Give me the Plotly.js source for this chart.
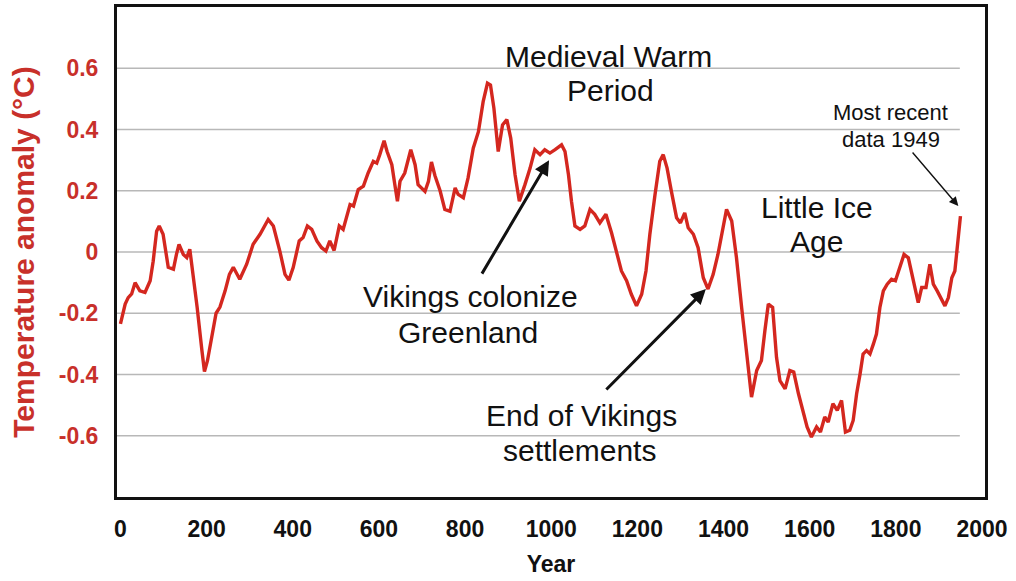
<!DOCTYPE html>
<html>
<head>
<meta charset="utf-8">
<script src="https://cdn.plot.ly/plotly-3.0.1.min.js"></script>
<style>html,body{margin:0;padding:0;background:#fff;}#chart{width:1016px;height:581px;}</style>
</head>
<body>
<div id="chart"></div>
<script>
const years = [0,11,18,26,34,45,57,69,76,84,90,99,111,123,130,136,146,154,161,169,178,189,195,202,212,222,231,243,253,262,277,293,308,324,343,355,370,382,391,401,415,424,434,444,456,467,477,486,496,508,517,527,533,541,552,564,575,587,595,602,612,619,630,637,643,649,660,674,684,691,707,715,722,730,742,753,765,777,784,796,807,819,831,842,852,859,867,877,887,897,906,916,926,939,951,962,974,985,997,1009,1024,1032,1040,1047,1055,1067,1078,1090,1101,1113,1127,1140,1152,1163,1175,1186,1198,1210,1220,1229,1241,1252,1260,1269,1279,1291,1300,1310,1318,1330,1341,1353,1364,1376,1387,1399,1407,1419,1430,1442,1454,1465,1477,1488,1496,1504,1514,1523,1531,1543,1554,1563,1574,1585,1594,1604,1616,1625,1635,1643,1654,1664,1674,1683,1693,1701,1709,1717,1724,1732,1740,1748,1755,1763,1771,1780,1790,1799,1810,1819,1829,1840,1852,1860,1870,1879,1887,1896,1904,1914,1922,1930,1937,1945,1950];
const anomaly = [-0.235,-0.17,-0.149,-0.137,-0.10,-0.127,-0.132,-0.094,-0.03,0.068,0.085,0.058,-0.05,-0.056,-0.008,0.025,-0.008,-0.018,0.009,-0.073,-0.18,-0.32,-0.39,-0.355,-0.27,-0.20,-0.18,-0.127,-0.073,-0.05,-0.089,-0.04,0.025,0.058,0.106,0.085,0.003,-0.073,-0.092,-0.051,0.036,0.047,0.085,0.074,0.036,0.014,0.003,0.036,0.005,0.085,0.074,0.123,0.155,0.15,0.204,0.215,0.258,0.296,0.29,0.318,0.363,0.328,0.285,0.22,0.166,0.231,0.258,0.334,0.285,0.22,0.198,0.231,0.294,0.25,0.20,0.139,0.133,0.209,0.188,0.177,0.242,0.339,0.393,0.491,0.551,0.545,0.469,0.328,0.415,0.432,0.372,0.253,0.166,0.22,0.274,0.334,0.318,0.334,0.323,0.334,0.35,0.328,0.253,0.166,0.085,0.074,0.085,0.139,0.123,0.095,0.123,0.063,-0.008,-0.062,-0.094,-0.138,-0.176,-0.138,-0.062,0.058,0.188,0.296,0.318,0.274,0.198,0.112,0.095,0.128,0.079,0.058,0.014,-0.084,-0.121,-0.073,-0.008,0.079,0.139,0.101,-0.018,-0.181,-0.344,-0.474,-0.387,-0.354,-0.257,-0.17,-0.181,-0.344,-0.42,-0.447,-0.387,-0.392,-0.463,-0.528,-0.571,-0.604,-0.571,-0.588,-0.539,-0.555,-0.495,-0.517,-0.485,-0.588,-0.582,-0.55,-0.463,-0.398,-0.333,-0.322,-0.333,-0.30,-0.268,-0.181,-0.127,-0.105,-0.089,-0.094,-0.051,-0.008,-0.019,-0.094,-0.165,-0.116,-0.116,-0.04,-0.105,-0.127,-0.149,-0.176,-0.149,-0.084,-0.062,0.047,0.117];
const xTicks = [0,200,400,600,800,1000,1200,1400,1600,1800,2000];
const yTicks = [-0.6,-0.4,-0.2,0,0.2,0.4,0.6];
const yTickLabels = ['-0.6','-0.4','-0.2','0','0.2','0.4','0.6'];

const FONT = 'Liberation Sans, Arial, sans-serif';
const RED = '#c8302a';

const trace = {
  x: years, y: anomaly, type: 'scatter', mode: 'lines',
  line: {color: '#d4271f', width: 3.4, shape: 'linear'},
  hoverinfo: 'x+y'
};

const gridShapes = yTicks.map(v => ({
  type: 'line', xref: 'paper', yref: 'y', x0: 0, x1: 0.971, y0: v, y1: v,
  line: {color: '#b8b8b8', width: 1.5}, layer: 'below'
}));

function txt(text, x, y, size) {
  return {text: text, xref: 'paper', yref: 'paper', x: x, y: y,
    xanchor: 'center', yanchor: 'middle', showarrow: false,
    font: {family: FONT, size: size, color: '#111'}};
}
function arrow(x, y, ax, ay, w, s) {
  return {text: '', xref: 'x', yref: 'y', x: x, y: y, ax: ax, ay: ay,
    showarrow: true, arrowhead: 2, arrowsize: s, arrowwidth: w, arrowcolor: '#111'};
}

const layout = {
  width: 1016, height: 581,
  margin: {l: 117, r: 31, t: 7, b: 84},
  paper_bgcolor: '#fff', plot_bgcolor: '#fff',
  showlegend: false,
  font: {family: FONT},
  xaxis: {
    range: [-8, 2007], tickvals: xTicks, ticks: '',
    showline: true, linecolor: '#111', linewidth: 3, mirror: true,
    showgrid: false, zeroline: false,
    tickfont: {family: FONT, size: 23, color: '#111', weight: 'bold'},
    ticklabelstandoff: 9,
    title: {text: 'Year', font: {family: FONT, size: 23, color: '#111', weight: 'bold'}, standoff: 16}
  },
  yaxis: {
    range: [-0.8, 0.8], tickvals: yTicks, ticktext: yTickLabels, ticks: '',
    showline: true, linecolor: '#111', linewidth: 3, mirror: true,
    showgrid: false, zeroline: false,
    tickfont: {family: FONT, size: 23, color: RED, weight: 'bold'},
    ticklabelstandoff: 11,
    title: {text: 'Temperature anomaly (°C)', font: {family: FONT, size: 30, color: RED, weight: 'bold'}, standoff: 16}
  },
  shapes: gridShapes,
  annotations: [
    txt('Medieval Warm', 0.5668, 0.898, 30),
    txt('Period', 0.568, 0.8306, 30),
    txt('Vikings colonize', 0.4067, 0.4082, 30),
    txt('Greenland', 0.4044, 0.3367, 30),
    txt('End of Vikings', 0.5346, 0.1673, 30),
    txt('settlements', 0.5334, 0.0959, 30),
    txt('Little Ice', 0.8065, 0.5918, 30),
    txt('Age', 0.8053, 0.5224, 30),
    txt('Most recent', 0.8917, 0.7837, 22),
    txt('data 1949', 0.8917, 0.7286, 22),
    arrow(995, 0.30, -68, 115, 3, 1),
    arrow(1359, -0.121, -101, 102, 3, 1),
    arrow(1945, 0.15, -47, -55, 1.4, 1.3)
  ]
};

Plotly.newPlot('chart', [trace], layout, {displayModeBar: false, staticPlot: true});
</script>
</body>
</html>
